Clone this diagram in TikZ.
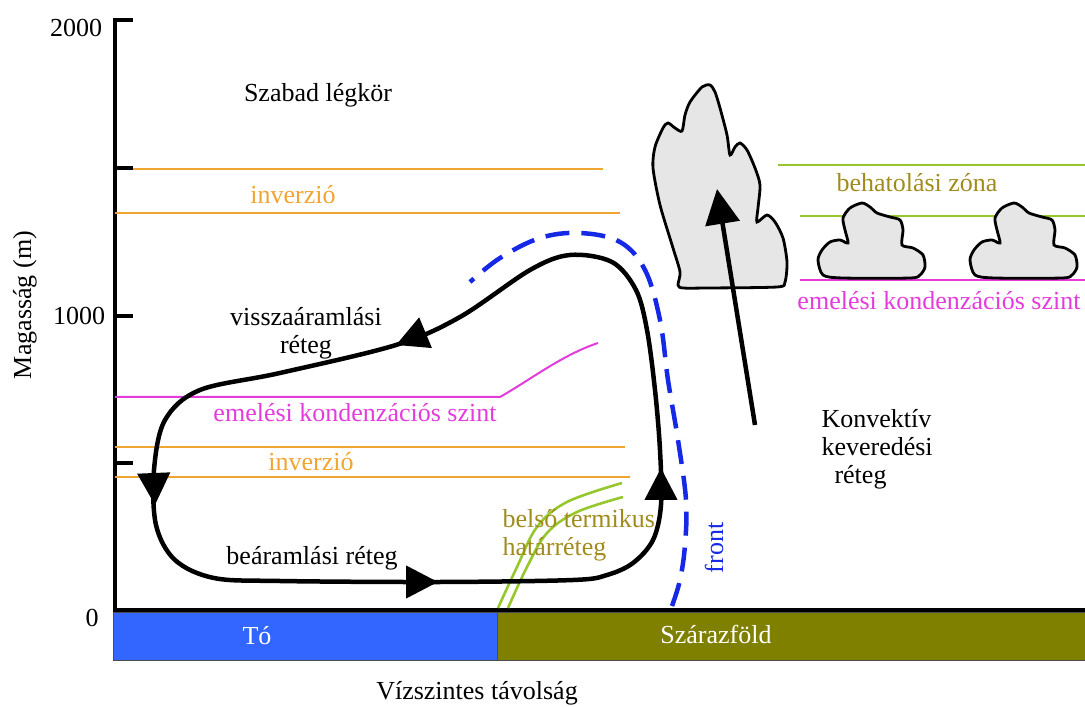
\documentclass[tikz,border=0pt]{standalone}
\usepackage{fontspec}
\setmainfont{Liberation Serif}
\usetikzlibrary{arrows.meta}

\definecolor{invorange}{RGB}{240,165,50}
\definecolor{lclpink}{RGB}{228,60,220}
\definecolor{iblgreen}{RGB}{150,200,45}
\definecolor{ibltext}{RGB}{160,140,30}
\definecolor{frontblue}{RGB}{20,40,230}
\definecolor{lakeblue}{RGB}{51,102,255}
\definecolor{landolive}{RGB}{128,128,0}
\definecolor{cloudgray}{RGB}{230,230,230}

\begin{document}
\begin{tikzpicture}[x=1pt, y=-1pt,
	every node/.style={font=\fontsize{26}{28}\selectfont},
	heavy/.style={line width=4pt},
	flowline/.style={line width=4.5pt},
	invline/.style={line width=2pt, color=invorange},
	lclline/.style={line width=2pt, color=lclpink},
	iblline/.style={line width=2.6pt, color=iblgreen},
	cloudshape/.style={line width=2.8pt, draw=black, fill=cloudgray},
	bigtip/.style={-{Triangle[length=35pt, width=34pt]}},
	flowtip/.style={-{Triangle[length=32pt, width=32pt]}}]
	\useasboundingbox (0,0) rectangle (1085,708);

	% Height axis
	\coordinate (axistop) at (115,18);
	\coordinate (axisbottom) at (115,612);
	\draw[heavy] (axistop) -- (axisbottom);
	\foreach \ty in {20,168,316,463}
		\draw[heavy] (115,\ty) -- (133,\ty);
	\node (label2000) at (76,28) {2000};
	\node (label1000) at (79,316) {1000};
	\node (label0) at (92,618) {0};
	\node[rotate=90] (heightlabel) at (25,305) {Magasság (m)};

	% Ground
	\fill[lakeblue, draw=black!70] (113,612) rectangle (497,660);
	\fill[landolive, draw=black!70] (497,612) rectangle (1085,660);
	\draw[heavy] (113,610) -- (1085,610);
	\node[text=white] (lakelabel) at (257,636) {Tó};
	\node[text=white] (landlabel) at (716,634) {Szárazföld};
	\node (distlabel) at (477,693) {Vízszintes távolság};

	\node (freeair) at (318,95) {Szabad légkör};

	% Inversions
	\draw[invline] (133,169) -- (603,169);
	\draw[invline] (115,213) -- (620,213);
	\node[text=invorange] (invupper) at (293,195) {inverzió};
	\draw[invline] (115,447) -- (625,447);
	\draw[invline] (115,477) -- (630,477);
	\node[text=invorange] (invlower) at (311,462) {inverzió};

	% Condensation level over the lake
	\draw[lclline] (115,397) -- (500,397) .. controls (530,380) and (562,355) .. (598,343);
	\node[text=lclpink] (lclleft) at (355,413) {emelési kondenzációs szint};

	% Internal boundary layer
	\draw[iblline] plot[smooth, tension=0.6] coordinates {(498,608) (517,567) (537,527) (567,502) (622,483)};
	\draw[iblline] plot[smooth, tension=0.6] coordinates {(508,608) (527,567) (547,533) (577,512) (623,497)};
	\node[text=ibltext, align=left, anchor=west] (ibllabel) at (499,535) {belső termikus\\határréteg};

	% Breeze circulation
	\draw[flowline] plot[smooth cycle, tension=0.55] coordinates {
		(280,581) (440,582) (573,580) (607,575) (633,563) (653,540) (661,505)
		(660,450) (655,390) (647,330) (636,290) (612,262) (570,255) (530,270)
		(460,317) (396,345) (280,373) (200,390) (165,420) (154,470) (156,525)
		(175,560) (214,578)};
	\coordinate (inflowtip) at (438,582);
	\coordinate (riseup) at (661,468);
	\coordinate (returntip) at (396,345);
	\coordinate (sinktip) at (155,505);
	\draw[flowline, flowtip] (410,582) -- (inflowtip);
	\draw[flowline, flowtip] (661,492) -- (riseup);
	\draw[flowline, flowtip] (420,335) -- (returntip);
	\draw[flowline, flowtip] (154,480) -- (sinktip);
	\node[align=center] (returnlabel) at (306,333) {visszaáramlási\\réteg};
	\node (inflowlabel) at (312,558) {beáramlási réteg};

	% Front
	\draw[line width=4.5pt, frontblue, dash pattern=on 24pt off 12pt] plot[smooth, tension=0.6] coordinates {
		(672,606) (680,580) (685,545) (686,500) (678,440) (668,380) (660,320)
		(645,270) (620,242) (580,233) (540,238) (500,258) (470,282)};
	\node[rotate=90, text=frontblue] (frontlabel) at (714,548) {front};

	% Layers over the land
	\draw[iblline] (778,165) -- (1085,165);
	\draw[iblline] (800,216) -- (1085,216);
	\node[text=ibltext] (penlabel) at (917,183) {behatolási zóna};
	\draw[lclline] (800,280) -- (1085,280);
	\node[text=lclpink] (lclright) at (939,301) {emelési kondenzációs szint};

	% Clouds
	\draw[cloudshape] plot[smooth cycle, tension=0.45] coordinates {
		(678,285) (680,272) (673,248) (660,205) (653,168) (655,147) (663,128)
		(668,123) (675,128) (682,131) (685,115) (690,102) (702,87) (710,85)
		(715,92) (720,108) (727,135) (730,155) (735,147) (740,143) (747,150)
		(755,168) (760,185) (758,208) (757,222) (767,215) (775,222) (783,238)
		(787,262) (785,282) (777,287) (707,288) (683,288)};
	\foreach \sx in {0,152}
		\draw[cloudshape, shift={(\sx,0)}] plot[smooth cycle, tension=0.45] coordinates {
			(823,275) (818,260) (822,250) (830,242) (840,240) (848,243) (845,230)
			(843,218) (850,208) (862,203) (870,207) (877,213) (890,217) (900,220)
			(903,230) (902,245) (913,248) (923,255) (925,267) (920,275) (910,278)
			(843,278)};

	% Convection
	\draw[flowline, bigtip] (755,425) -- (717,189);
	\node[align=left, anchor=west] (convlabel) at (818,449) {Konvektív\\keveredési\\\hspace*{13pt}réteg};
\end{tikzpicture}
\end{document}
